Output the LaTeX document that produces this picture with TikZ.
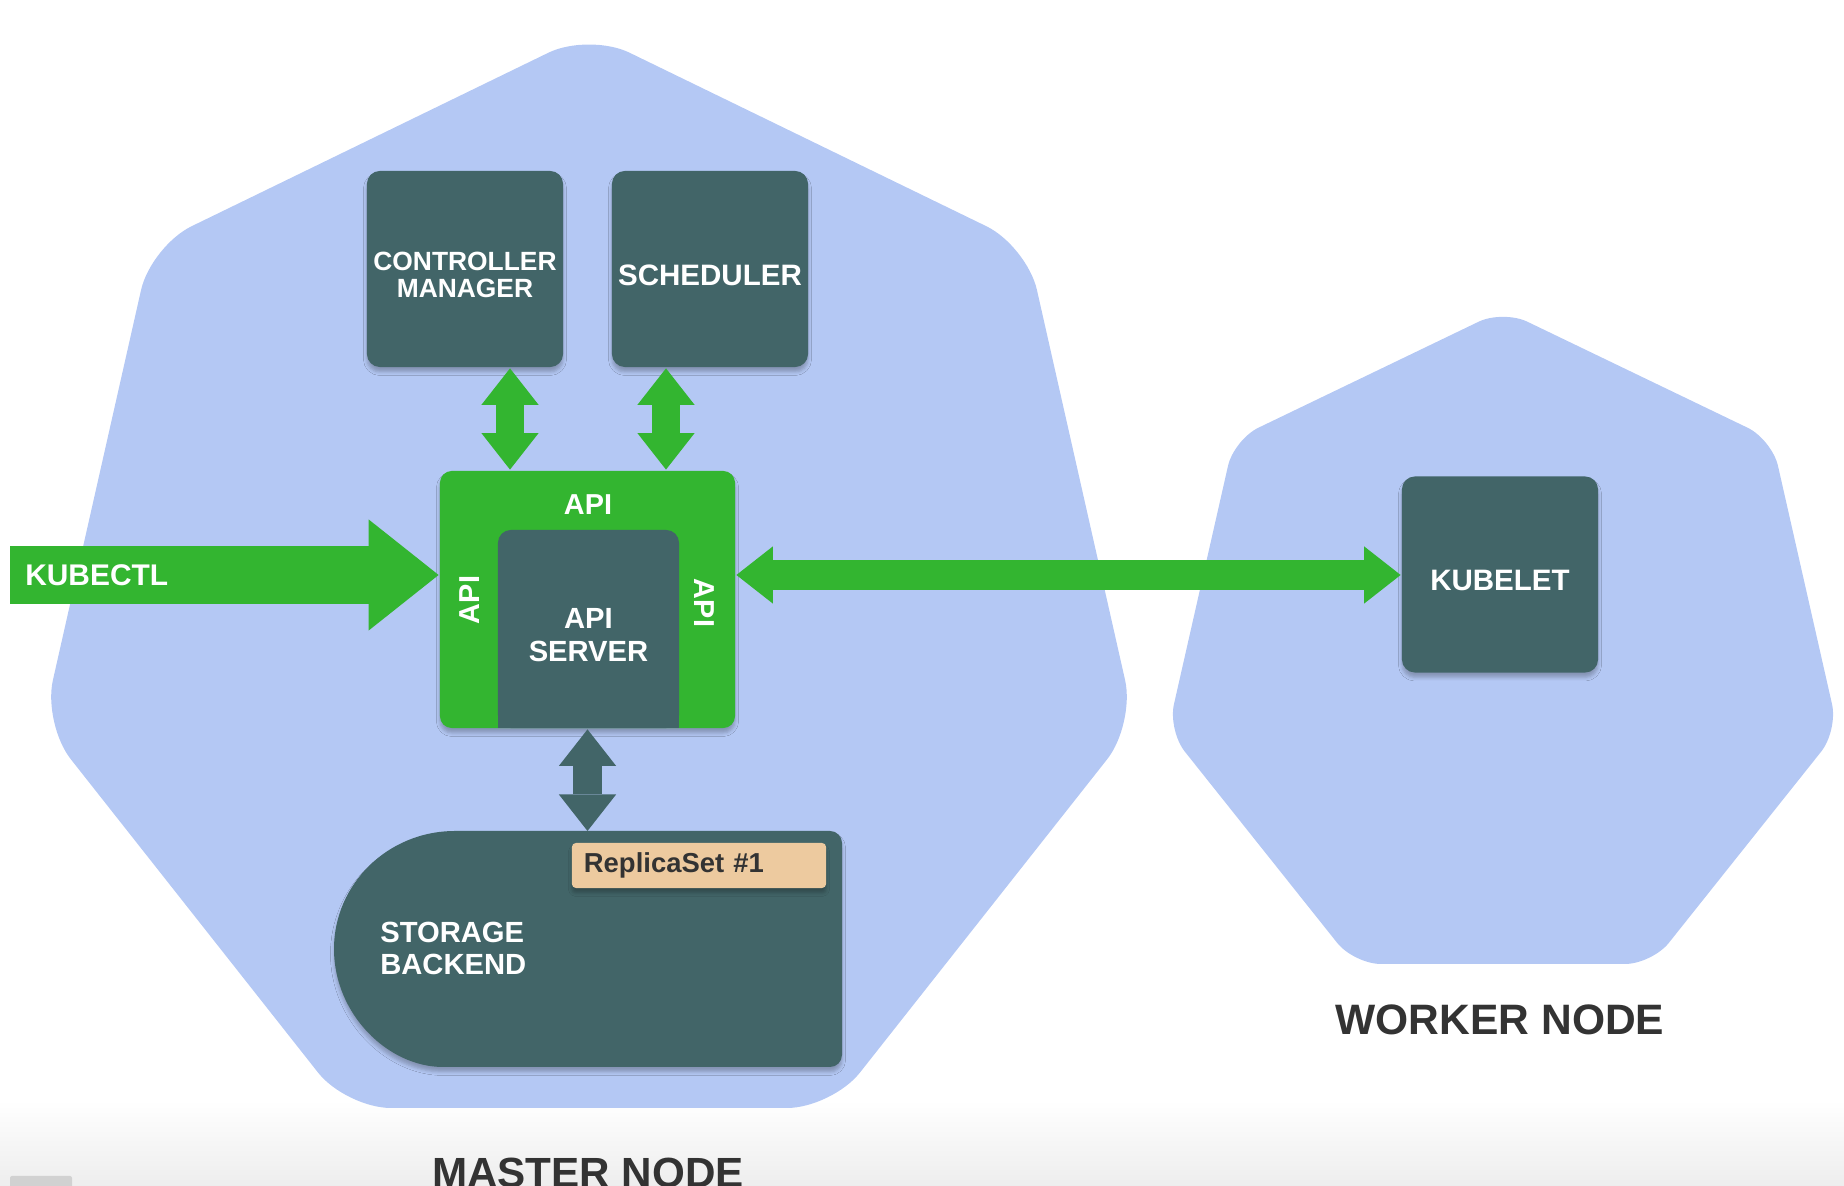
\documentclass[tikz,border=0pt]{standalone}
\usepackage{fontspec}
\setmainfont{Liberation Sans}
\usepackage{xcolor}
\usepackage{tikz}
\usetikzlibrary{positioning,arrows.meta,calc}
\usetikzlibrary{shadows.blur}
\definecolor{hept}{HTML}{B4C8F4}
\definecolor{slate}{HTML}{426568}
\definecolor{kgreen}{HTML}{33B530}
\definecolor{tan}{HTML}{EDCA9F}
\definecolor{textdark}{HTML}{333333}
\tikzset{every picture/.style={line width=0.75pt}}
\tikzset{
  soft/.style={blur shadow={shadow xshift=0pt,shadow yshift=-1.4pt,shadow blur radius=1pt,shadow opacity=25}},
  dbox/.style={fill=slate,rounded corners=0.13cm,minimum width=1.96cm,minimum height=1.96cm,inner sep=0pt},
  box/.style={dbox,soft},
  white/.style={text=white,inner sep=0pt,font=\bfseries\fontsize{8.3}{9.2}\selectfont},
  boxtext/.style={white,align=center,yshift=-0.06cm,font=\bfseries\fontsize{8.4}{7.7}\selectfont},
  nodename/.style={text=textdark,inner sep=0pt,anchor=base,font=\bfseries\fontsize{12.1}{14}\selectfont},
  garrow/.style={draw=kgreen,line width=8pt,{Triangle[length=10.4pt,width=16.3pt,line width=0pt]}-{Triangle[length=10.4pt,width=16.3pt,line width=0pt]}},
  darrow/.style={garrow,draw=slate},
  karrow/.style={draw=kgreen,line width=16.5pt,-{Triangle[length=19.9pt,width=31.6pt,line width=0pt]}}
}
\begin{document}
\begin{tikzpicture}[x=0.01cm,y=-0.01cm]
\useasboundingbox (0,0) rectangle (1844,1186);
%
\shade[top color=white,bottom color=black!7] (0,1100) rectangle (1844,1186);
\fill[black!18,rounded corners=0.02cm] (10,1176) rectangle (72,1196);
%
\fill[hept,rounded corners=0.45cm] (589,33) -- (1027,246) -- (1135,724) -- (832,1108) -- (346,1108) -- (43,724) -- (151,246) -- cycle;
\fill[hept,rounded corners=0.27cm] (1503,310) -- (1772,439.5) -- (1838,730.5) -- (1652,964) -- (1354,964) -- (1168,730.5) -- (1234,439.5) -- cycle;
%
\node[box,label={[boxtext,font=\bfseries\fontsize{7.5}{7.7}\selectfont]center:CONTROLLER\\MANAGER}] (cm) at (465,269) {};
\node[box,label={[boxtext]center:SCHEDULER}] (sched) at (710,269) {};
\node[box,label={[boxtext]center:KUBELET}] (kubelet) at (1500,574.5) {};
%
\node[soft,fill=kgreen,rounded corners=0.12cm,minimum width=2.95cm,minimum height=2.57cm,inner sep=0pt] (api) at (587.5,599.5) {};
\fill[slate] (498,700) rectangle (679,728);
\node[dbox,minimum width=1.81cm,minimum height=1.98cm,label={[boxtext,font=\bfseries\fontsize{8.3}{9.2}\selectfont]center:API\\SERVER}] (apisrv) at (588.5,629) {};
\node[white,font=\bfseries\fontsize{8.2}{9}\selectfont] (apiT) at (588,505) {API};
\node[white,font=\bfseries\fontsize{8.2}{9}\selectfont,rotate=90] (apiL) at (470,600) {API};
\node[white,font=\bfseries\fontsize{8.2}{9}\selectfont,rotate=-90] (apiR) at (704,603) {API};
%
\path[soft,fill=slate] (455,831) [rounded corners=0.12cm] -- (842,831) -- (842,1067) -- (455,1067) [sharp corners] .. controls (388,1067) and (334,1014) .. (334,949) .. controls (334,884) and (388,831) .. (455,831) -- cycle;
\coordinate (stop) at (584,831);
\node[white,anchor=west,align=left] (store) at (379,948.5) {STORAGE\\BACKEND};
\node[soft,fill=tan,rounded corners=0.04cm,minimum width=2.54cm,minimum height=0.45cm,text width=2.30cm,align=left,inner xsep=0.12cm,inner ysep=0pt,text=textdark,font=\bfseries\fontsize{7.8}{9}\selectfont] (rs) at (699,865.5) {ReplicaSet \#1};
%
\coordinate (k0) at (10,575);
\coordinate (x1) at (510,0);
\coordinate (x2) at (666,0);
\draw[karrow] (k0) -- (k0 -| api.west);
\node[white,anchor=west,font=\bfseries\fontsize{8.5}{9}\selectfont] (kubectl) at (24,575) {KUBECTL};
%
\foreach \Source/\Target in {%
	cm/x1,
	sched/x2%
    }
\draw[garrow] (\Source.south -| \Target) to (api.north -| \Target);
%
\draw[garrow,line width=8.5pt] (api.east |- k0) to (kubelet.west |- k0);
\draw[darrow] (api.south) to (api.south |- stop);
%
\node[nodename] (worker) at (1500,1035) {WORKER NODE};
\node[nodename,font=\bfseries\fontsize{12}{14}\selectfont] (master) at (588,1188) {MASTER NODE};
\end{tikzpicture}
\end{document}
